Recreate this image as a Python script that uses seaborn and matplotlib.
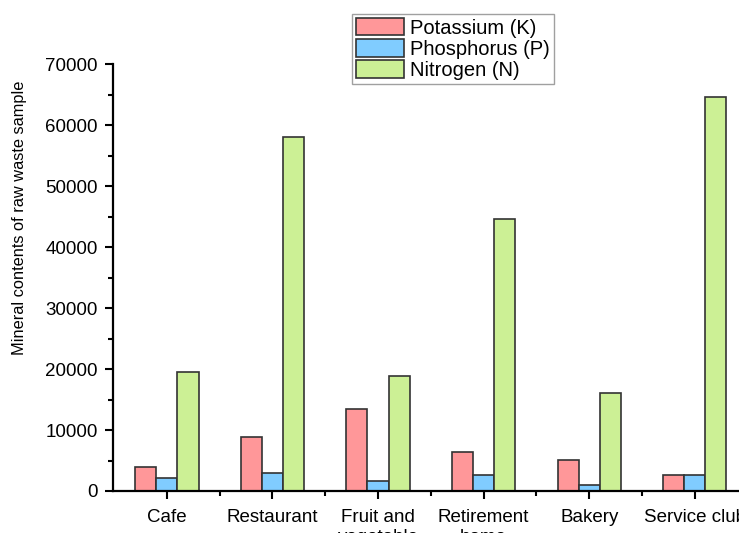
import pandas as pd
import matplotlib
matplotlib.use("Agg")
import matplotlib.pyplot as plt
import seaborn as sns
from matplotlib.ticker import MultipleLocator, FixedLocator

categories = ["Cafe", "Restaurant", "Fruit and\nvegetable", "Retirement\nhome", "Bakery", "Service club"]
potassium = [4000, 8850, 13400, 6400, 5100, 2700]
phosphorus = [2100, 3000, 1700, 2700, 1000, 2700]
nitrogen = [19500, 58000, 18900, 44600, 16000, 64600]
series = ["Potassium (K)", "Phosphorus (P)", "Nitrogen (N)"]
colors = ["#FF9799", "#80CCFF", "#CCF095"]

df = pd.DataFrame({
    "Sample": categories * 3,
    "Mineral": [s for s in series for _ in categories],
    "Value": potassium + phosphorus + nitrogen,
})

sns.set_style("ticks")
plt.rcParams["font.family"] = ["Liberation Sans", "DejaVu Sans"]
plt.rcParams["text.color"] = "black"
plt.rcParams["axes.labelcolor"] = "black"
plt.rcParams["xtick.color"] = "black"
plt.rcParams["ytick.color"] = "black"

fig = plt.figure(figsize=(7.39, 5.33), dpi=100)
ax = fig.add_axes([0.153, 0.0788, 0.86, 0.801])

sns.barplot(data=df, x="Sample", y="Value", hue="Mineral", palette=colors,
            width=0.6, edgecolor="#333333", linewidth=1.2, saturation=1,
            ax=ax, legend=False)

ax.set_xlim(-0.51, 5.51)
ax.set_ylim(0, 70000)
ax.yaxis.set_major_locator(MultipleLocator(10000))
ax.yaxis.set_minor_locator(MultipleLocator(5000))
ax.xaxis.set_minor_locator(FixedLocator([0.5, 1.5, 2.5, 3.5, 4.5]))
ax.tick_params(axis="both", which="major", direction="out", length=6, width=1.5, labelsize=13.5,
               color="black", labelcolor="black")
ax.tick_params(axis="both", which="minor", direction="out", length=3.5, width=1.5, color="black")
ax.tick_params(axis="x", pad=7)
ax.tick_params(axis="y", pad=5)

ax.set_xlabel("")
ax.set_ylabel("Mineral contents of raw waste sample", fontsize=11.8, color="black")
ax.yaxis.set_label_coords(-0.135, 0.64)

for side in ["top", "right"]:
    ax.spines[side].set_visible(False)
for side in ["left", "bottom"]:
    ax.spines[side].set_linewidth(1.6)
    ax.spines[side].set_color("black")

handles = [plt.Rectangle((0, 0), 1, 1, facecolor=c, edgecolor="#333333", linewidth=1.2) for c in colors]
leg = fig.legend(handles, series, loc="upper left", bbox_to_anchor=(352 / 739, 1 - 14 / 533),
                 frameon=True, fancybox=False, edgecolor="#888888", fontsize=14.5,
                 handlelength=2.4, handleheight=0.95, labelspacing=0.08,
                 handletextpad=0.3, borderpad=0.2, borderaxespad=0)
for t in leg.get_texts():
    t.set_color("black")

fig.savefig("out.png", dpi=100)
